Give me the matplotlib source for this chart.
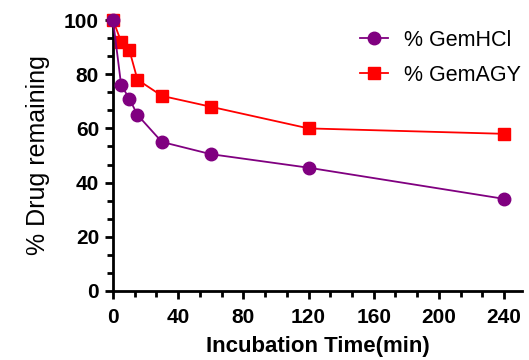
import matplotlib.pyplot as plt
from matplotlib.ticker import AutoMinorLocator, MultipleLocator

time_min = [0, 5, 10, 15, 30, 60, 120, 240]
gem_hcl = [100, 76, 71, 65, 55, 50.5, 45.5, 34]
gem_agy = [100, 92, 89, 78, 72, 68, 60, 58]

plt.rcParams['font.family'] = ['Liberation Sans', 'DejaVu Sans']

fig = plt.figure(figsize=(5.29, 3.6), dpi=100)
ax = fig.add_axes([113 / 529, 1 - 291 / 360, (522 - 113) / 529, (291 - 20) / 360])

ax.plot(time_min, gem_agy, color='#ff0000', marker='s', markersize=9,
        linewidth=1.3, label='% GemAGY', clip_on=False, zorder=3)
ax.plot(time_min, gem_hcl, color='#800080', marker='o', markersize=9,
        linewidth=1.3, label='% GemHCl', clip_on=False, zorder=4)

ax.set_xlim(0, 251)
ax.set_ylim(0, 100)
ax.xaxis.set_minor_locator(AutoMinorLocator(3))
ax.yaxis.set_major_locator(MultipleLocator(20))
ax.yaxis.set_minor_locator(AutoMinorLocator(3))
ax.set_xticks(range(0, 241, 40))

for side in ['top', 'right']:
    ax.spines[side].set_visible(False)
for side in ['left', 'bottom']:
    ax.spines[side].set_linewidth(2)
ax.tick_params(which='major', length=6, width=2, labelsize=15)
ax.tick_params(axis='x', which='major', pad=6)
ax.tick_params(axis='y', which='major', pad=4)
ax.tick_params(which='minor', length=4, width=2)
for lab in ax.get_xticklabels() + ax.get_yticklabels():
    lab.set_fontweight('bold')

ax.set_xlabel('Incubation Time(min)', fontsize=16, fontweight='bold', labelpad=6.5)
ax.set_ylabel('% Drug remaining', fontsize=18, labelpad=10)

handles, labels = ax.get_legend_handles_labels()
fig.legend(handles[::-1], labels[::-1], loc='upper left',
           bbox_to_anchor=(360 / 529, 1 - 30 / 360), borderaxespad=0, borderpad=0,
           frameon=False, fontsize=15.5, handlelength=1.3, handletextpad=0.75,
           labelspacing=0.65)

fig.savefig('out.png', dpi=100)
